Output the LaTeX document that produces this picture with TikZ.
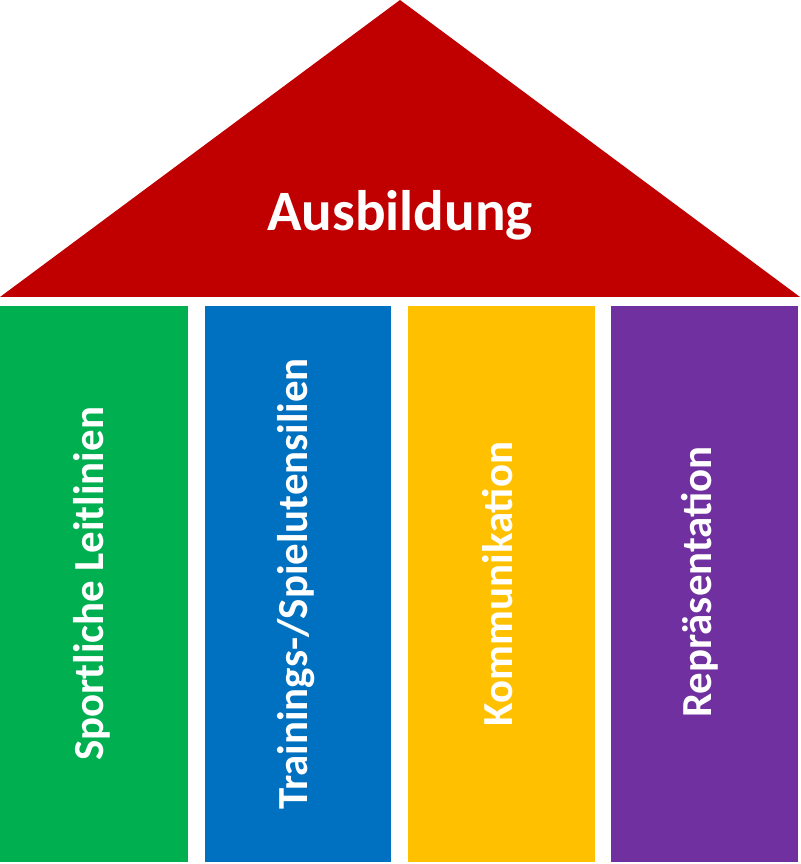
\documentclass[tikz,border=0pt]{standalone}
\usepackage{fontspec}
\setmainfont{Carlito}
\definecolor{roofred}{HTML}{C00000}
\definecolor{pgreen}{HTML}{00B050}
\definecolor{pblue}{HTML}{0070C0}
\definecolor{pyellow}{HTML}{FFC000}
\definecolor{ppurple}{HTML}{7030A0}
\tikzset{
  pillar/.style={fill=#1, draw=none},
  pillartext/.style={text=white, font=\bfseries\fontsize{24.4}{28}\selectfont, rotate=90},
}
\begin{document}
\begin{tikzpicture}[x=0.02cm, y=-0.02cm]
    \useasboundingbox (0,0) rectangle (800,864);
    \fill[roofred] (400,0) -- (800,297) -- (0,297) -- cycle;
    \node (Roof) [text=white, font=\bfseries\fontsize{32.5}{38}\selectfont] at (400,215) {Ausbildung};

    \fill[pillar=pgreen] (0,306) rectangle (188,862);
    \fill[pillar=pblue] (205,306) rectangle (391,862);
    \fill[pillar=pyellow] (408,306) rectangle (595,862);
    \fill[pillar=ppurple] (611,306) rectangle (798,862);

    \node (Sport) [pillartext] at (92,584) {Sportliche Leitlinien};
    \node (Training) [pillartext] at (296,584) {Trainings-/Spielutensilien};
    \node (Komm) [pillartext] at (498,584) {Kommunikation};
    \node (Repr) [pillartext] at (700,582) {Repräsentation};
\end{tikzpicture}
\end{document}
